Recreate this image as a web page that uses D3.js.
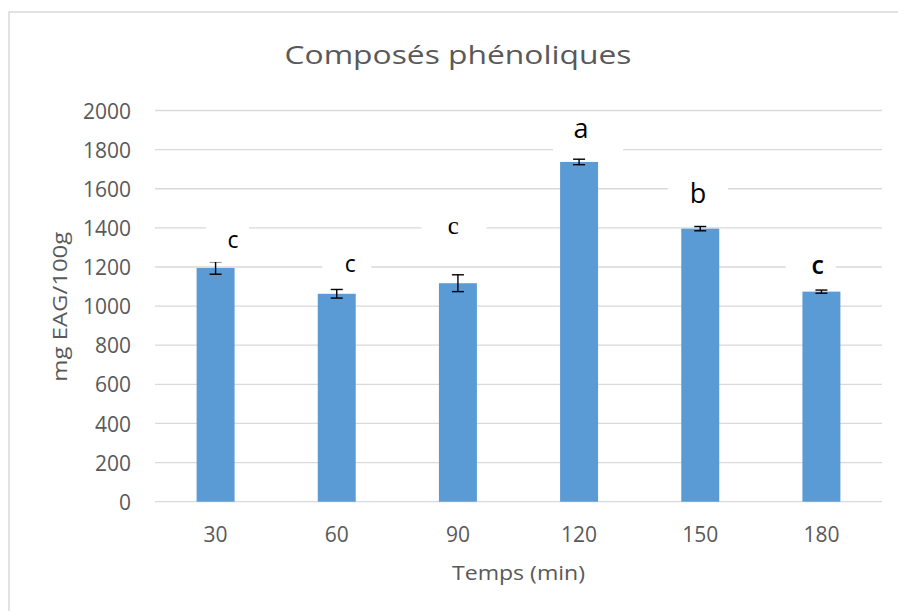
<!DOCTYPE html>
<html>
<head>
<meta charset="utf-8">
<script src="https://cdn.jsdelivr.net/npm/d3@7"></script>
<style>
  html, body { margin: 0; padding: 0; background: #fff; }
  svg { display: block; }
</style>
</head>
<body>
<svg id="chart" width="898" height="611"></svg>
<script>
// Phenolic content (mg EAG/100g) by extraction time
const categories = ["30", "60", "90", "120", "150", "180"];
const values     = [1195, 1063, 1117, 1737, 1396, 1074];
const errors     = [32, 22, 43, 14, 11, 8];
const letters    = ["c", "c", "c", "a", "b", "c"];
const yTicks     = [0, 200, 400, 600, 800, 1000, 1200, 1400, 1600, 1800, 2000];

// Hand placement of the significance letters (px offsets from bar centre / bar top)
const letterLayout = [
  { dx: 17.5, dy: -20, size: 23, family: "'Open Sans', sans-serif", weight: 400, boxL: 27, boxR: 16, boxT: 26, boxB: 14 },
  { dx: 13.5, dy: -22, size: 23, family: "'Open Sans', sans-serif", weight: 400, boxL: 28, boxR: 21, boxT: 24, boxB: 10 },
  { dx: -4.5, dy: -49, size: 25, family: "'Liberation Serif', serif", weight: 400, boxL: 32, boxR: 33, boxT: 24, boxB: 10 },
  { dx: 2,    dy: -24, size: 27, family: "'Open Sans', sans-serif", weight: 400, boxL: 28, boxR: 42, boxT: 24, boxB: 16 },
  { dx: -2.3, dy: -26, size: 27, family: "'Open Sans', sans-serif", weight: 400, boxL: 30, boxR: 30, boxT: 24, boxB: 12 },
  { dx: -3.7, dy: -18, size: 25, family: "'Open Sans', sans-serif", weight: 600, boxL: 32, boxR: 18, boxT: 22, boxB: 10 }
];

const svg = d3.select("#chart");
const font = "'Open Sans', sans-serif";
const textColor = "#595959";
const gridColor = "#D9D9D9";
const barColor = "#5B9BD5";

const plot = { left: 155, right: 882, top: 110.5, bottom: 501.7 };

// Chart frame (extends past the right and bottom edges)
svg.append("rect")
  .attr("x", 9).attr("y", 12)
  .attr("width", 900).attr("height", 620)
  .attr("fill", "#fff")
  .attr("stroke", gridColor).attr("stroke-width", 1.5);

const x = d3.scaleBand().domain(categories).range([plot.left, plot.right]).paddingInner(0).paddingOuter(0);
const y = d3.scaleLinear().domain([0, 2000]).range([plot.bottom, plot.top]);
const barW = x.bandwidth() / 3.19;

// Gridlines
svg.append("g").selectAll("line").data(yTicks).join("line")
  .attr("x1", plot.left).attr("x2", plot.right)
  .attr("y1", d => y(d)).attr("y2", d => y(d))
  .attr("stroke", gridColor).attr("stroke-width", 1.3);

// Y axis labels
const yAxis = d3.axisLeft(y).tickValues(yTicks).tickFormat(d3.format("d")).tickSize(0).tickPadding(0);
const gy = svg.append("g").attr("transform", `translate(131,0)`).call(yAxis);
gy.select(".domain").remove();
gy.selectAll("text")
  .attr("font-family", font).attr("font-size", 21).attr("fill", textColor)
  .attr("dy", "0.36em");

// X axis labels
const xAxis = d3.axisBottom(x).tickSize(0).tickPadding(0);
const gx = svg.append("g").attr("transform", `translate(0,${plot.bottom})`).call(xAxis);
gx.select(".domain").remove();
gx.selectAll("text")
  .attr("font-family", font).attr("font-size", 21).attr("fill", textColor)
  .attr("y", 40).attr("dy", 0);

// Bars
svg.append("g").selectAll("rect").data(values).join("rect")
  .attr("x", (d, i) => x(categories[i]) + (x.bandwidth() - barW) / 2)
  .attr("y", d => y(d))
  .attr("width", barW)
  .attr("height", d => y(0) - y(d))
  .attr("fill", barColor);

// Error bars
const eb = svg.append("g").attr("stroke", "#000").attr("stroke-width", 1.4);
values.forEach((v, i) => {
  const cx = x(categories[i]) + x.bandwidth() / 2;
  const hi = y(v + errors[i]), lo = y(v - errors[i]);
  eb.append("line").attr("x1", cx).attr("x2", cx).attr("y1", hi).attr("y2", lo);
  eb.append("line").attr("x1", cx - 6).attr("x2", cx + 6).attr("y1", hi).attr("y2", hi);
  eb.append("line").attr("x1", cx - 6).attr("x2", cx + 6).attr("y1", lo).attr("y2", lo);
});

// Significance letters on white label boxes
const lg = svg.append("g");
values.forEach((v, i) => {
  const L = letterLayout[i];
  const cx = x(categories[i]) + x.bandwidth() / 2 + L.dx;
  const base = y(v) + L.dy;
  lg.append("rect")
    .attr("x", cx - L.boxL).attr("y", base - L.boxT)
    .attr("width", L.boxL + L.boxR).attr("height", L.boxT + L.boxB)
    .attr("fill", "#fff");
  lg.append("text")
    .attr("x", cx).attr("y", base)
    .attr("text-anchor", "middle")
    .attr("font-family", L.family).attr("font-size", L.size).attr("font-weight", L.weight)
    .attr("fill", "#000")
    .text(letters[i]);
});

// Title
svg.append("text")
  .attr("x", 458).attr("y", 63.5)
  .attr("text-anchor", "middle")
  .attr("font-family", font).attr("font-size", 26).attr("fill", textColor)
  .attr("textLength", 347).attr("lengthAdjust", "spacingAndGlyphs")
  .text("Composés phénoliques");

// Axis titles
svg.append("text")
  .attr("x", 518.5).attr("y", 579.5)
  .attr("text-anchor", "middle")
  .attr("font-family", font).attr("font-size", 20).attr("fill", textColor)
  .attr("textLength", 133).attr("lengthAdjust", "spacingAndGlyphs")
  .text("Temps (min)");

svg.append("text")
  .attr("transform", "translate(67,306.7) rotate(-90)")
  .attr("text-anchor", "middle")
  .attr("font-family", font).attr("font-size", 20).attr("fill", textColor)
  .attr("textLength", 150).attr("lengthAdjust", "spacingAndGlyphs")
  .text("mg EAG/100g");
</script>
</body>
</html>
